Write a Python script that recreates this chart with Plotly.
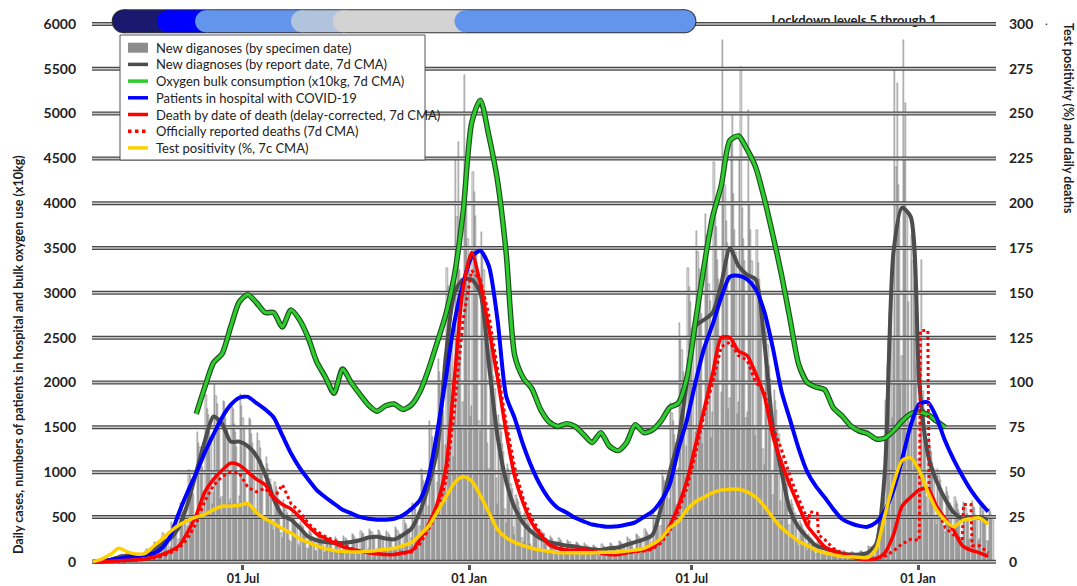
import pandas as pd
import plotly.graph_objects as go

# ---------------- data ----------------
week_start = "2020-03-01"
n_weeks = 105
x_range = ["2020-02-29 05:00", "2022-03-05 10:00"]

# New diagnoses by specimen date (daily, Sun..Sat rows)
bars_by_week = [
    [0, 0, 0, 0, 0, 1, 0], [0, 1, 3, 2, 5, 9, 6], [10, 22, 35, 40, 52, 58, 30],
    [38, 72, 85, 70, 66, 58, 33], [30, 84, 72, 68, 70, 55, 28], [36, 92, 98, 80, 78, 66, 34],
    [52, 125, 140, 118, 104, 96, 48], [85, 220, 205, 186, 170, 158, 76], [120, 318, 296, 270, 248, 236, 110],
    [170, 445, 410, 380, 345, 325, 150], [255, 660, 610, 590, 520, 470, 230], [400, 1020, 960, 910, 810, 760, 360],
    [560, 1450, 1330, 1280, 1120, 1060, 510], [720, 1860, 1700, 1640, 1460, 1380, 650], [780, 1980, 1850, 1760, 1560, 1480, 700],
    [720, 1790, 1780, 1600, 1500, 1330, 660], [700, 1730, 1700, 1540, 1450, 1280, 640], [730, 1870, 1740, 1600, 1500, 1330, 660],
    [650, 1600, 1580, 1420, 1330, 1180, 590], [570, 1440, 1350, 1270, 1140, 1060, 510], [460, 1170, 1090, 1030, 920, 860, 410],
    [350, 890, 830, 790, 700, 660, 320], [270, 690, 640, 610, 540, 510, 240], [215, 550, 510, 490, 430, 410, 195],
    [170, 440, 405, 390, 345, 325, 155], [140, 355, 335, 315, 280, 265, 125], [120, 315, 295, 280, 250, 235, 110],
    [110, 290, 270, 255, 225, 215, 100], [105, 275, 255, 245, 215, 205, 95], [110, 290, 270, 250, 230, 215, 100],
    [125, 310, 300, 280, 250, 235, 115], [135, 345, 320, 305, 270, 255, 120], [145, 370, 345, 330, 295, 275, 130],
    [140, 355, 340, 315, 285, 265, 125], [135, 345, 325, 300, 275, 255, 120], [150, 385, 360, 340, 305, 285, 135],
    [180, 465, 435, 415, 370, 345, 165], [260, 660, 620, 585, 520, 490, 235], [400, 1030, 970, 900, 820, 770, 370],
    [620, 1570, 1480, 1390, 1250, 1170, 560], [890, 2260, 2120, 2000, 1790, 1680, 800], [1300, 3280, 3080, 2900, 2610, 2450, 1170],
    [1630, 4480, 3850, 4680, 3250, 3050, 1480], [1780, 5430, 4280, 3990, 3600, 3300, 1620], [1740, 4350, 4120, 3860, 3480, 3240, 1570],
    [1460, 3680, 3480, 3260, 2940, 2740, 1320], [1030, 2590, 2440, 2300, 2070, 1930, 930], [650, 1640, 1540, 1450, 1310, 1220, 590],
    [430, 1090, 1030, 970, 870, 810, 390], [295, 750, 705, 665, 600, 560, 270], [215, 545, 515, 485, 435, 405, 195],
    [160, 410, 385, 365, 325, 305, 145], [135, 345, 320, 305, 270, 255, 120], [115, 290, 270, 255, 225, 215, 100],
    [100, 260, 240, 230, 205, 195, 90], [95, 240, 225, 215, 190, 180, 85], [85, 220, 205, 195, 175, 165, 75],
    [80, 205, 190, 180, 160, 155, 70], [75, 190, 180, 170, 150, 145, 65], [75, 195, 180, 170, 150, 140, 65],
    [80, 205, 195, 180, 160, 150, 70], [90, 230, 215, 205, 180, 170, 80], [105, 275, 255, 240, 215, 200, 95],
    [125, 315, 295, 280, 250, 235, 110], [145, 370, 345, 325, 295, 275, 130], [215, 545, 510, 485, 435, 410, 190],
    [400, 1020, 950, 900, 810, 770, 360], [700, 1770, 1660, 1570, 1410, 1330, 630], [1050, 2660, 2500, 2360, 2120, 2000, 950],
    [1290, 3280, 3070, 2900, 2610, 2460, 1160], [1450, 3690, 3460, 3270, 2940, 2760, 1310], [1530, 3880, 3640, 3440, 3100, 2910, 1380],
    [1670, 4460, 3960, 3740, 3370, 3160, 1500], [1890, 5820, 4450, 4200, 3800, 3560, 1700], [1830, 4650, 5000, 4100, 3700, 3460, 1650],
    [1780, 4500, 5520, 3950, 3600, 3360, 1600], [1670, 5040, 3980, 3700, 3350, 3150, 1500], [1400, 3700, 3330, 3150, 2830, 2650, 1260],
    [1080, 2740, 2560, 2420, 2180, 2040, 970], [750, 1920, 1790, 1690, 1520, 1430, 680], [460, 1160, 1090, 1030, 925, 870, 410],
    [270, 690, 640, 605, 545, 510, 245], [180, 455, 425, 400, 360, 340, 160], [120, 305, 285, 265, 240, 225, 105],
    [85, 220, 205, 195, 175, 165, 80], [70, 180, 165, 155, 140, 135, 65], [60, 150, 140, 135, 120, 110, 55],
    [50, 125, 115, 110, 100, 90, 45], [45, 110, 105, 100, 90, 80, 40], [50, 125, 115, 110, 100, 90, 45],
    [70, 180, 170, 160, 145, 135, 65], [150, 310, 380, 450, 560, 650, 400], [700, 1800, 2200, 2500, 2800, 3000, 1600],
    [2500, 5490, 4400, 5340, 4200, 3800, 2000], [2300, 5820, 4500, 5120, 3900, 2900, 1400], [1150, 3650, 3350, 3100, 2800, 2200, 1150],
    [780, 2200, 3370, 1900, 1700, 1500, 720], [540, 1380, 1290, 1220, 1100, 1030, 490], [410, 1030, 960, 910, 820, 770, 370],
    [330, 830, 780, 735, 660, 620, 295], [285, 720, 675, 640, 575, 540, 255], [265, 670, 625, 595, 535, 500, 240],
    [260, 680, 610, 600, 520, 505, 235], [255, 640, 600, 570, 515, 480, 230], [230, 590, 550, 520, 470],
]

# weekly readings (left axis units)
report_cases = [0, 5, 20, 50, 70, 60, 80, 130, 200, 260, 390, 650, 1000, 1350, 1620, 1540, 1340, 1340, 1290, 1180,
                980, 700, 520, 470, 380, 280, 240, 220, 210, 210, 220, 240, 270, 280, 260, 250, 300, 370, 560, 860,
                1250, 2300, 3000, 3150, 3150, 3000, 2200, 1400, 900, 600, 430, 330, 260, 220, 200, 180, 170, 150, 140, 130,
                150, 160, 190, 220, 250, 300, 600, 1000, 1350, 2000, 2630, 2700, 2780, 3100, 3500, 3300, 3200, 3150, 2450, 1500,
                1000, 570, 380, 270, 180, 150, 120, 90, 80, 80, 100, 200, 1000, 3450, 3950, 3850, 2000, 1200, 900, 700,
                550, 480, 500, 490, 470]

oxygen = [None] * 12 + [1650, 1950, 2220, 2320, 2620, 2900, 2980, 2890, 2780, 2780, 2620, 2810, 2700, 2500, 2230, 2060,
                        1880, 2150, 2000, 1870, 1750, 1680, 1740, 1760, 1700, 1750, 1900, 2150, 2450, 2760, 3200, 3900,
                        4900, 5150, 4750, 4250, 3450, 2300, 2050, 1930, 1700, 1560, 1510, 1540, 1510, 1420, 1330, 1440,
                        1290, 1240, 1330, 1530, 1440, 1470, 1570, 1720, 1770, 2050, 2680, 3300, 3850, 4200, 4700, 4750,
                        4600, 4400, 4050, 3640, 3200, 2700, 2200, 2000, 1950, 1920, 1720, 1630, 1520, 1460, 1430, 1370,
                        1380, 1460, 1570, 1650, 1670, 1640, 1570, 1500] + [None] * 5

hospital = [0, 10, 20, 35, 50, 60, 75, 90, 150, 290, 550, 780, 990, 1220, 1420, 1610, 1750, 1830, 1840, 1770,
            1700, 1610, 1410, 1210, 1050, 920, 800, 720, 650, 580, 540, 500, 480, 470, 470, 480, 520, 590, 690, 950,
            1450, 2050, 2680, 3100, 3400, 3470, 3300, 2700, 1850, 1600, 1300, 1050, 850, 700, 600, 550, 490, 450, 415, 400,
            390, 395, 415, 440, 500, 560, 680, 860, 1250, 1580, 2000, 2380, 2650, 2950, 3180, 3190, 3150, 3040, 2790, 2380,
            1900, 1580, 1260, 1000, 840, 720, 590, 480, 430, 400, 390, 440, 570, 800, 1140, 1520, 1760, 1780, 1610, 1350,
            1140, 960, 800, 670, 560]

# weekly readings (right axis units)
deaths_dod = [0, 0, 0.3, 0.5, 0.8, 1, 1.5, 2.5, 4, 6, 9, 16.5, 26, 39, 46, 51, 55, 54, 50, 46,
              43, 36, 32, 29.5, 25, 20, 15.5, 13, 10.5, 8.5, 7, 6, 5, 4.5, 4, 4, 5, 6, 12.5, 21,
              32.5, 52.5, 102.5, 152.5, 172.5, 155, 130, 102.5, 72.5, 47.5, 32.5, 21.5, 15, 9.5, 7.5, 6.5, 6.5, 6.5, 6, 5,
              4, 4, 5, 6, 6.5, 8, 12.5, 20, 31, 45, 65, 85, 105, 125, 125, 117.5, 115, 105, 92.5, 70,
              55, 42.5, 31, 20, 14, 8.5, 6, 4, 3, 1.5, 1.3, 1.8, 5, 15, 31, 36, 40, 41, 31, 24,
              17.5, 9, 6.5, 5, 3]

deaths_reported = [0, 0, 0, 0.3, 0.5, 0.8, 1.3, 2, 3, 5, 7.5, 13, 21.5, 34, 42.5, 47.5, 50, 49.5, 41.5, 39,
                   41, 35, 43, 32.5, 28, 21.5, 17, 14, 12, 9.5, 7.5, 6, 5, 4.5, 4, 4, 4.5, 5.5, 10, 18,
                   28, 45, 85, 135, 162.5, 157.5, 137.5, 107.5, 77.5, 52.5, 35, 24, 16, 10, 8, 7, 6, 7, 5.5, 4.5,
                   4, 4.5, 5, 5.5, 6, 7, 10.5, 17, 28, 41, 60, 82.5, 100, 120, 122.5, 115, 112.5, 100, 95, 75,
                   62.5, 47.5, 35, 24, 27, 12.5, 7.5, 5, 3.5, 2, 1.5, 1.5, 3, 6, 10, 12.5, 12, 129, 31, 19,
                   15, 12, 32, 9, 5]
deaths_reported_extra_dates = ["2021-10-04", "2021-10-05", "2021-10-11", "2021-10-12",
                               "2022-01-03", "2022-01-10", "2022-02-07", "2022-02-14"]
deaths_reported_extra = [20, 28, 27, 15, 129, 38, 32, 9]

positivity = [0, 1.5, 4, 7.5, 5.5, 4.3, 4.5, 8.5, 12.5, 17, 20.5, 23, 25, 26.5, 29, 31, 31, 31.5, 32.5, 27.5,
              24, 21.5, 18.5, 16, 13, 10.8, 8.8, 7.3, 6.3, 5.8, 5.5, 5.5, 5.8, 6.3, 7, 7.5, 9, 10.8, 15, 20,
              28, 36, 44, 47.5, 45, 37, 27.5, 18, 13.5, 10.8, 9, 7.5, 6.5, 5.8, 5, 5, 5, 5, 5, 5.3,
              5.3, 5.5, 6, 6.5, 7.5, 9.8, 13, 19, 22.5, 29, 33.5, 36, 38.5, 40, 40.5, 40.5, 39, 36, 31, 24.5,
              19, 15, 11.5, 9, 6.5, 5, 4, 3, 2.8, 2.5, 2.3, 7.5, 26, 43.5, 56.5, 58, 51, 39, 29, 23,
              19.5, 23, 24, 24.5, 21]

# lockdown levels
lock_dates = ["2020-03-26", "2020-05-01", "2020-06-01", "2020-08-18", "2020-09-21", "2020-12-29", "2021-06-25"]
lock_levels = [5, 4, 3, 2, 1, 3]
lock_colors = {5: "#191970", 4: "#0000ff", 3: "#6495ed", 2: "#b0c4de", 1: "#d3d3d3"}

left_ticks = list(range(0, 6001, 500))
right_ticks = list(range(0, 301, 25))
x_tickvals = ["2020-07-01", "2021-01-01", "2021-07-01", "2022-01-01"]
x_ticktext = ["01 Jul", "01 Jan", "01 Jul", "01 Jan"]

# legend entries: (label, colour, kind)
legend_items = [
    ("New diganoses (by specimen date)", "#8c8c8c", "box"),
    ("New diagnoses (by report date, 7d CMA)", "#4d4d4d", "solid"),
    ("Oxygen bulk consumption (x10kg, 7d CMA)", "#2ecc2e", "solid"),
    ("Patients in hospital with COVID-19", "#0000ff", "solid"),
    ("Death by date of death (delay-corrected, 7d CMA)", "#ff0000", "solid"),
    ("Officially reported deaths (7d CMA)", "#ff0000", "dot"),
    ("Test positivity (%, 7c CMA)", "#ffd000", "solid"),
]

# ---------------- layout geometry ----------------
W, H = 1077, 586
ML, MR, MT, MB = 92, 81, 2, 22
PW, PH = W - ML - MR, H - MT - MB


def px_x(px):
    return (px - ML) / PW


def px_y(py):
    return (H - MB - py) / PH


# ---------------- figure ----------------
weeks = pd.date_range(week_start, periods=n_weeks, freq="7D")
bars_daily = [v for wk in bars_by_week for v in wk]
bar_dates = pd.date_range(week_start, periods=len(bars_daily), freq="D")

rep = pd.Series(deaths_reported, index=weeks)
rep = pd.concat([rep, pd.Series(deaths_reported_extra, index=pd.to_datetime(deaths_reported_extra_dates))]).sort_index()

FONT = "Lato"
fig = go.Figure()

fig.add_trace(go.Bar(x=bar_dates, y=bars_daily, width=86400000,
                     marker=dict(color="#dcdcdc", line=dict(color="#333333", width=0.3)),
                     name=legend_items[0][0], showlegend=False))

bar_y = 6030
# lockdown label (drawn under the grid line, as in the original)
fig.add_trace(go.Scatter(x=["2021-11-10"], y=[bar_y], mode="text", text=["Lockdown levels 5 through 1"],
                         textfont=dict(family=FONT, size=13, color="#222", weight="bold"),
                         showlegend=False, hoverinfo="skip", cliponaxis=False))

gx, gy = [], []
for v in left_ticks:
    gx += [x_range[0], x_range[1], None]
    gy += [v, v, None]
fig.add_trace(go.Scatter(x=gx, y=gy, mode="lines", line=dict(color="#4a4a4a", width=4),
                         showlegend=False, hoverinfo="skip"))
fig.add_trace(go.Scatter(x=gx, y=gy, mode="lines", line=dict(color="#c6c6c6", width=1.5),
                         showlegend=False, hoverinfo="skip"))

SM = 0.7
fig.add_trace(go.Scatter(x=weeks, y=report_cases, mode="lines", name=legend_items[1][0], showlegend=False,
                         line=dict(color="#4d4d4d", width=4, shape="spline", smoothing=SM)))
fig.add_trace(go.Scatter(x=weeks, y=oxygen, mode="lines", showlegend=False, hoverinfo="skip",
                         line=dict(color="#1f4f1f", width=5.5, shape="spline", smoothing=SM)))
fig.add_trace(go.Scatter(x=weeks, y=oxygen, mode="lines", name=legend_items[2][0], showlegend=False,
                         line=dict(color="#2ecc2e", width=3.2, shape="spline", smoothing=SM)))
fig.add_trace(go.Scatter(x=weeks, y=hospital, mode="lines", name=legend_items[3][0], showlegend=False,
                         line=dict(color="#0000ff", width=4, shape="spline", smoothing=SM)))
fig.add_trace(go.Scatter(x=weeks, y=deaths_dod, mode="lines", yaxis="y2", name=legend_items[4][0], showlegend=False,
                         line=dict(color="#ff0000", width=3.5, shape="spline", smoothing=SM)))
fig.add_trace(go.Scatter(x=rep.index, y=rep.values, mode="lines", yaxis="y2", name=legend_items[5][0],
                         showlegend=False, line=dict(color="#ff0000", width=3, dash="dot")))
fig.add_trace(go.Scatter(x=weeks, y=positivity, mode="lines", yaxis="y2", name=legend_items[6][0], showlegend=False,
                         line=dict(color="#ffd000", width=3.5, shape="spline", smoothing=SM)))

# lockdown level bar
R = 11
shapes = [dict(type="rect", xref="x", yref="y", x0=lock_dates[0], x1=lock_dates[-1], ysizemode="pixel",
               yanchor=bar_y, y0=-R - 1, y1=R + 1, fillcolor="#333", line_width=0)]
for d in (lock_dates[0], lock_dates[-1]):
    shapes.append(dict(type="circle", xref="x", yref="y", xsizemode="pixel", ysizemode="pixel", xanchor=d,
                       yanchor=bar_y, x0=-R - 1, x1=R + 1, y0=-R - 1, y1=R + 1, fillcolor="#333", line_width=0))
for i, lvl in enumerate(lock_levels):
    c = lock_colors[lvl]
    shapes.append(dict(type="rect", xref="x", yref="y", x0=lock_dates[i], x1=lock_dates[i + 1], ysizemode="pixel",
                       yanchor=bar_y, y0=-R, y1=R, fillcolor=c, line_width=0))
    shapes.append(dict(type="circle", xref="x", yref="y", xsizemode="pixel", ysizemode="pixel", xanchor=lock_dates[i],
                       yanchor=bar_y, x0=-R, x1=R, y0=-R, y1=R, fillcolor=c, line_width=0))
shapes.append(dict(type="circle", xref="x", yref="y", xsizemode="pixel", ysizemode="pixel", xanchor=lock_dates[-1],
                   yanchor=bar_y, x0=-R, x1=R, y0=-R, y1=R, fillcolor=lock_colors[lock_levels[-1]], line_width=0))

# legend (box, swatches, labels)
annotations = []
LB = dict(l=120, r=425, t=35, b=160)
shapes.append(dict(type="rect", xref="paper", yref="paper", x0=px_x(LB["l"]), x1=px_x(LB["r"]),
                   y0=px_y(LB["b"]), y1=px_y(LB["t"]), fillcolor="white", line=dict(color="#555", width=1)))
row0, row_h = 47.7, 16.7
for i, (label, color, kind) in enumerate(legend_items):
    yc = row0 + i * row_h
    if kind == "box":
        shapes.append(dict(type="rect", xref="paper", yref="paper", x0=px_x(128), x1=px_x(148),
                           y0=px_y(yc + 5), y1=px_y(yc - 5), fillcolor=color, line_width=0))
    else:
        shapes.append(dict(type="line", xref="paper", yref="paper", x0=px_x(128), x1=px_x(148),
                           y0=px_y(yc), y1=px_y(yc), line=dict(color=color, width=3.5,
                                                               dash="dot" if kind == "dot" else "solid")))
    annotations.append(dict(text=label, xref="paper", yref="paper", x=px_x(154), y=px_y(yc), xanchor="left",
                            yanchor="middle", showarrow=False, font=dict(family=FONT, size=13, color="#222")))

annotations += [
    dict(text="Daily cases, numbers of patients in hospital and bulk oxygen use (x10kg)", xref="paper",
         yref="paper", x=px_x(18), y=px_y(355), xanchor="center", yanchor="middle", textangle=-90,
         showarrow=False, font=dict(family=FONT, size=12.5, color="#222", weight="bold")),
    dict(text="Test positivity (%) and daily deaths", xref="paper", yref="paper", x=px_x(1069), y=px_y(118),
         xanchor="center", yanchor="middle", textangle=90, showarrow=False,
         font=dict(family=FONT, size=12.5, color="#222", weight="bold")),
    dict(text=".", xref="paper", yref="paper", x=px_x(1046), y=px_y(20), xanchor="center", yanchor="middle",
         showarrow=False, font=dict(family=FONT, size=12, color="#222")),
]

y_lo, y_hi = -25, 6245
tickfont = dict(family=FONT, size=14, color="#222", weight="bold")
fig.update_layout(
    width=W, height=H, margin=dict(l=ML, r=MR, t=MT, b=MB, autoexpand=False),
    paper_bgcolor="white", plot_bgcolor="white",
    font=dict(family=FONT, color="#222"),
    bargap=0, shapes=shapes, annotations=annotations, showlegend=False,
    xaxis=dict(type="date", range=x_range, tickvals=x_tickvals, ticktext=x_ticktext, showgrid=False,
               zeroline=False, showline=False, ticks="outside", ticklen=5, tickwidth=3, tickcolor="#555",
               ticklabelstandoff=-2, automargin=False,
               tickfont=dict(family=FONT, size=12.5, color="#222", weight="bold")),
    yaxis=dict(range=[y_lo, y_hi], tickvals=left_ticks, showgrid=False, zeroline=False, showline=False,
               ticks="", ticklabelstandoff=15, automargin=False, tickfont=tickfont),
    yaxis2=dict(range=[y_lo / 20, y_hi / 20], tickvals=right_ticks, overlaying="y", side="right", showgrid=False,
                zeroline=False, showline=False, ticks="", ticklabelstandoff=12, automargin=False, tickfont=tickfont),
)

fig.write_html("out.html", config={"displayModeBar": False},
               post_script="document.body.style.margin='0';document.body.style.overflow='hidden';")
